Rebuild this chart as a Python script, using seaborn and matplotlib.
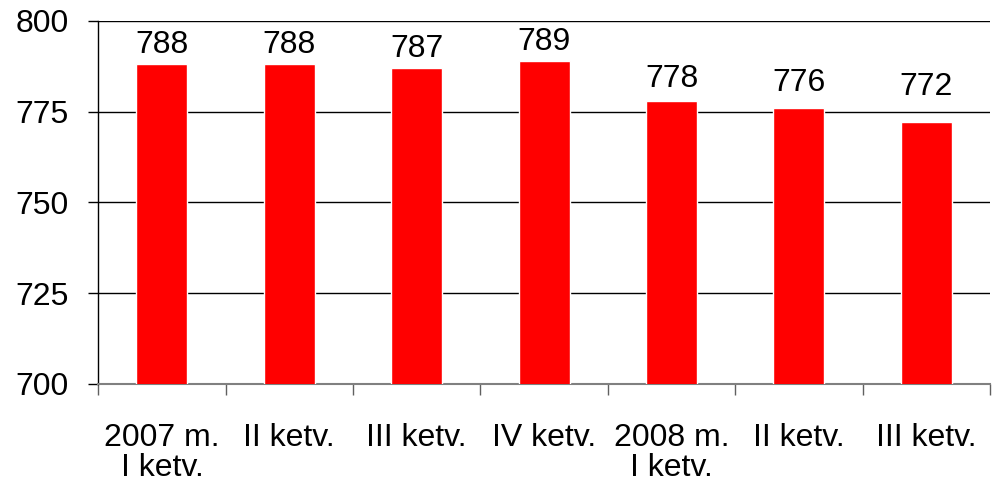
import numpy as np
import pandas as pd
import matplotlib
matplotlib.use('Agg')
import matplotlib.pyplot as plt
import seaborn as sns

categories = ['2007 m.\nI ketv.', 'II ketv.', 'III ketv.', 'IV ketv.',
              '2008 m.\nI ketv.', 'II ketv.', 'III ketv.']
values = [788, 788, 787, 789, 778, 776, 772]
yticks = [700, 725, 750, 775, 800]

# labels repeat, so plot on position index and label afterwards
df = pd.DataFrame({'pos': range(len(categories)), 'value': values})

sns.set_style('white')
plt.rcParams['font.family'] = ['Liberation Sans', 'DejaVu Sans']
plt.rcParams['text.color'] = 'black'
plt.rcParams['xtick.color'] = 'black'
plt.rcParams['ytick.color'] = 'black'

fig, ax = plt.subplots(figsize=(9.92, 4.84), dpi=100)
fig.subplots_adjust(left=0.099, right=0.998, top=0.957, bottom=0.207)

sns.barplot(data=df, x='pos', y='value', color='#ff0000', width=0.4,
            saturation=1, ax=ax, zorder=3)

ax.set_ylim(700, 800)
ax.set_yticks(yticks)
ax.set_xlim(-0.5, 6.5)
ax.set_xticks(range(len(categories)))
ax.set_xticklabels(categories, multialignment='center', linespacing=1.0)
ax.yaxis.grid(True, color='black', linewidth=1, zorder=0)
ax.set_axisbelow(True)

for sp in ['top', 'right']:
    ax.spines[sp].set_visible(False)
ax.spines['left'].set_color('black')
ax.spines['left'].set_linewidth(1)
ax.spines['bottom'].set_color('#808080')
ax.spines['bottom'].set_linewidth(1.5)

ax.tick_params(axis='y', length=7, width=1, color='black', labelsize=23, pad=14, left=True, labelcolor='black')
ax.tick_params(axis='x', which='major', length=0, labelsize=23, pad=28, labelcolor='black')
ax.set_xticks(np.arange(-0.5, 7, 1), minor=True)
ax.tick_params(axis='x', which='minor', length=8, width=1, color='#606060', bottom=True)

# value labels, spacing above the bar grows a little on the lower bars like in the original
pads = [3, 3, 3, 3, 4.5, 7.5, 15]
for bar, v, p in zip(ax.patches, values, pads):
    ax.annotate(f'{v}', (bar.get_x() + bar.get_width() / 2, bar.get_height()),
                xytext=(0, p), textcoords='offset points',
                ha='center', va='bottom', fontsize=23, color='black')

ax.set_xlabel('')
ax.set_ylabel('')

fig.savefig('out.png', dpi=100)
